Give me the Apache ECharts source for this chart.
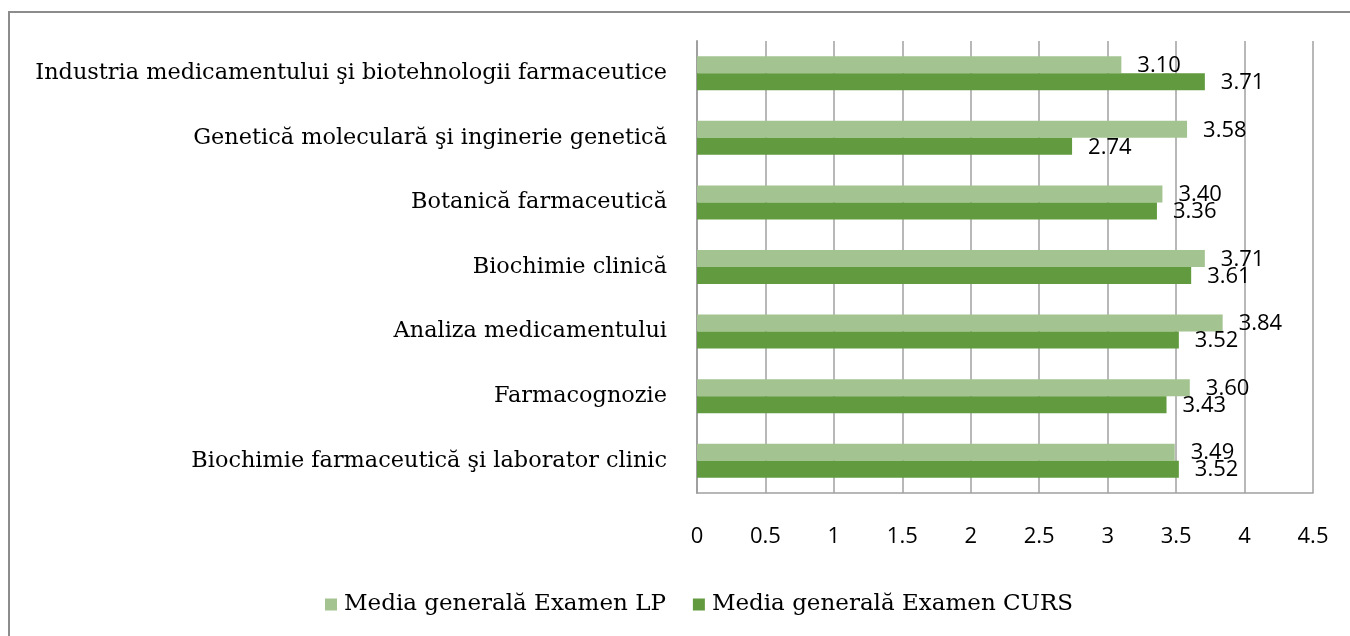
<!DOCTYPE html>
<html>
<head>
<meta charset="utf-8">
<script src="https://cdn.jsdelivr.net/npm/echarts@6/dist/echarts.min.js"></script>
<style>
    html, body { margin: 0; padding: 0; background: #fff; }
    #main { width: 1350px; height: 636px; }
</style>
</head>
<body>
<div id="main"></div>
<script>
    // categories, top to bottom as in the picture
    var categories = [
        'Industria medicamentului şi biotehnologii farmaceutice',
        'Genetică moleculară şi inginerie genetică',
        'Botanică farmaceutică',
        'Biochimie clinică',
        'Analiza medicamentului',
        'Farmacognozie',
        'Biochimie farmaceutică şi laborator clinic'
    ];
    var mediaLP = [3.10, 3.58, 3.40, 3.71, 3.84, 3.60, 3.49];
    var mediaCurs = [3.71, 2.74, 3.36, 3.61, 3.52, 3.43, 3.52];
    var xTicks = [0, 4.5, 0.5]; // min, max, step

    var serif = '"DejaVu Serif", serif';
    var sans = '"Open Sans", sans-serif';

    var myChart = echarts.init(document.getElementById('main'));

    var labelStyle = {
        show: true,
        position: 'right',
        distance: 16,
        offset: [0, 1],
        color: '#000',
        fontFamily: sans,
        fontSize: 22,
        formatter: function (p) { return p.value.toFixed(2); }
    };

    myChart.setOption({
        animation: false,
        graphic: [{
            type: 'rect',
            shape: { x: 9, y: 12, width: 1400, height: 700 },
            style: { fill: 'none', stroke: '#8c8c8c', lineWidth: 2 }
        }],
        grid: { left: 697, right: 37, top: 41, bottom: 143 },
        legend: {
            data: ['Media generală Examen LP', 'Media generală Examen CURS'],
            bottom: 15,
            left: 320,
            itemWidth: 12,
            itemHeight: 12,
            itemGap: 27,
            icon: 'rect',
            textStyle: { fontFamily: serif, fontSize: 23, color: '#000', padding: [0, 0, 0, 2] }
        },
        xAxis: {
            type: 'value',
            min: xTicks[0],
            max: xTicks[1],
            interval: xTicks[2],
            axisLine: { show: true, lineStyle: { color: '#a0a0a0', width: 1.5 } },
            axisTick: { show: false },
            axisLabel: { margin: 33, color: '#000', fontFamily: sans, fontSize: 22 },
            splitLine: { show: true, lineStyle: { color: '#a0a0a0', width: 1.5 } }
        },
        yAxis: {
            type: 'category',
            inverse: true,
            data: categories,
            axisLine: { show: true, lineStyle: { color: '#a0a0a0', width: 2 } },
            axisTick: { show: false },
            axisLabel: { margin: 30, color: '#000', fontFamily: serif, fontSize: 22.4 }
        },
        series: [
            {
                name: 'Media generală Examen LP',
                type: 'bar',
                data: mediaLP,
                barWidth: 17,
                barGap: '0%',
                itemStyle: { color: '#a3c490' },
                label: labelStyle
            },
            {
                name: 'Media generală Examen CURS',
                type: 'bar',
                data: mediaCurs,
                barWidth: 17,
                barGap: '0%',
                itemStyle: { color: '#629b3f' },
                label: labelStyle
            }
        ]
    });
</script>
</body>
</html>
